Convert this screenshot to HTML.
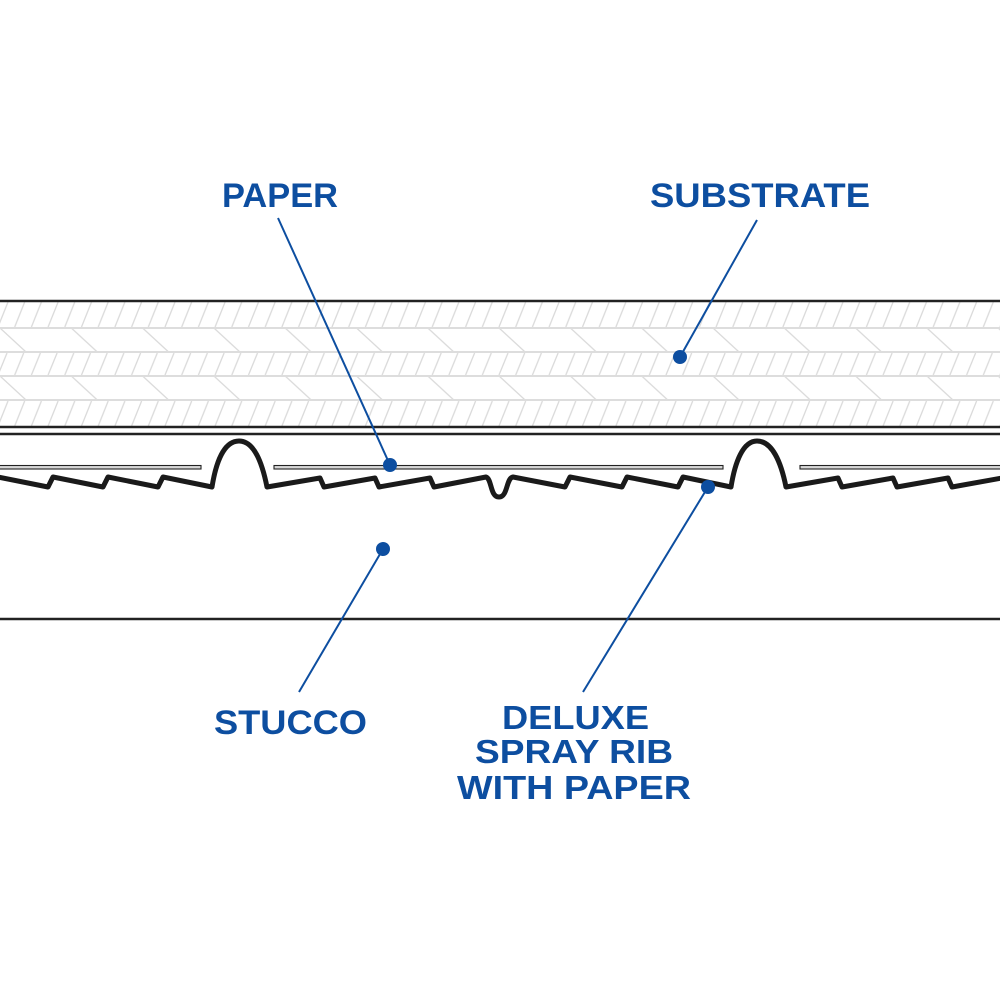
<!DOCTYPE html>
<html>
<head>
<meta charset="utf-8">
<style>
  html,body{margin:0;padding:0;background:#fff;}
  svg{display:block;}
  text{font-family:"Liberation Sans",Arial,sans-serif;font-weight:bold;fill:#0d4ea0;}
</style>
</head>
<body>
<svg width="1000" height="1000" viewBox="0 0 1000 1000" xmlns="http://www.w3.org/2000/svg">
  <defs>
    <pattern id="h1" patternUnits="userSpaceOnUse" x="0" y="302" width="16.7" height="25">
      <line x1="-2" y1="25" x2="8" y2="0" stroke="#dadada" stroke-width="1.3"/>
      <line x1="14.7" y1="25" x2="24.7" y2="0" stroke="#dadada" stroke-width="1.3"/>
    </pattern>
    <pattern id="h2" patternUnits="userSpaceOnUse" x="0" y="353" width="16.7" height="22">
      <line x1="-2" y1="22" x2="7" y2="0" stroke="#dadada" stroke-width="1.3"/>
      <line x1="14.7" y1="22" x2="23.7" y2="0" stroke="#dadada" stroke-width="1.3"/>
    </pattern>
    <pattern id="h3" patternUnits="userSpaceOnUse" x="0" y="401" width="16.7" height="25">
      <line x1="-2" y1="25" x2="8" y2="0" stroke="#dadada" stroke-width="1.3"/>
      <line x1="14.7" y1="25" x2="24.7" y2="0" stroke="#dadada" stroke-width="1.3"/>
    </pattern>
    <pattern id="c1" patternUnits="userSpaceOnUse" x="0" y="328" width="71.3" height="24">
      <line x1="0" y1="0" x2="26" y2="24" stroke="#dadada" stroke-width="1.3"/>
    </pattern>
    <pattern id="c2" patternUnits="userSpaceOnUse" x="0" y="376" width="71.3" height="24">
      <line x1="0" y1="0" x2="26" y2="24" stroke="#dadada" stroke-width="1.3"/>
    </pattern>
  </defs>

  <!-- substrate band -->
  <rect x="0" y="302" width="1000" height="25" fill="url(#h1)"/>
  <rect x="0" y="328" width="1000" height="24" fill="url(#c1)"/>
  <rect x="0" y="353" width="1000" height="22" fill="url(#h2)"/>
  <rect x="0" y="376" width="1000" height="24" fill="url(#c2)"/>
  <rect x="0" y="401" width="1000" height="25" fill="url(#h3)"/>

  <g stroke="#dddddd" stroke-width="2">
    <line x1="0" y1="328" x2="1000" y2="328"/>
    <line x1="0" y1="352" x2="1000" y2="352"/>
    <line x1="0" y1="376" x2="1000" y2="376"/>
    <line x1="0" y1="400" x2="1000" y2="400"/>
  </g>

  <g stroke="#222" stroke-width="2.5">
    <line x1="0" y1="301" x2="1000" y2="301"/>
    <line x1="0" y1="427" x2="1000" y2="427"/>
    <line x1="0" y1="434" x2="1000" y2="434"/>
    <line x1="0" y1="619" x2="1000" y2="619"/>
  </g>

  <!-- paper strips -->
  <g fill="#d8d8d8" stroke="#222" stroke-width="1.1">
    <rect x="-5" y="465.5" width="206" height="3.5"/>
    <rect x="274" y="465.5" width="449" height="3.5"/>
    <rect x="800" y="465.5" width="205" height="3.5"/>
  </g>

  <!-- rib profile -->
  <path d="M-2,477 L48,487 L53,477 L103,487 L108,477 L158,487 L163,477 L212,487
           C216,462 224,441 239,441 C254,441 262,462 267,487
           L320,478 L324,487 L375,478 L379,487 L430,478 L434,487 L486,477
           C492,479 490,497 499,497 C508,497 506,478 513,477
           L565,487 L570,477 L622,487 L627,477 L678,487 L683,477 L731,487
           C735,462 743,441 757,441 C772,441 781,462 786,487
           L838,478 L842,487 L893,478 L897,487 L948,478 L952,487 L1002,478"
        fill="none" stroke="#1a1a1a" stroke-width="5" stroke-linejoin="round" stroke-linecap="butt"/>

  <!-- leader lines -->
  <g stroke="#0d4ea0" stroke-width="2" fill="none">
    <line x1="278" y1="218" x2="390" y2="465"/>
    <line x1="757" y1="220" x2="680" y2="357"/>
    <line x1="383" y1="549" x2="299" y2="692"/>
    <line x1="708" y1="487" x2="583" y2="692"/>
  </g>
  <g fill="#0d4ea0">
    <circle cx="390" cy="465" r="7"/>
    <circle cx="680" cy="357" r="7"/>
    <circle cx="383" cy="549" r="7"/>
    <circle cx="708" cy="487" r="7"/>
  </g>

  <!-- labels -->
  <text x="222" y="207" font-size="34" textLength="116" lengthAdjust="spacingAndGlyphs">PAPER</text>
  <text x="650" y="207" font-size="34" textLength="220" lengthAdjust="spacingAndGlyphs">SUBSTRATE</text>
  <text x="214" y="734" font-size="34" textLength="153" lengthAdjust="spacingAndGlyphs">STUCCO</text>
  <text x="502" y="729" font-size="33" textLength="147" lengthAdjust="spacingAndGlyphs">DELUXE</text>
  <text x="475" y="763" font-size="33" textLength="198" lengthAdjust="spacingAndGlyphs">SPRAY RIB</text>
  <text x="457" y="799" font-size="33" textLength="234" lengthAdjust="spacingAndGlyphs">WITH PAPER</text>
</svg>
</body>
</html>
